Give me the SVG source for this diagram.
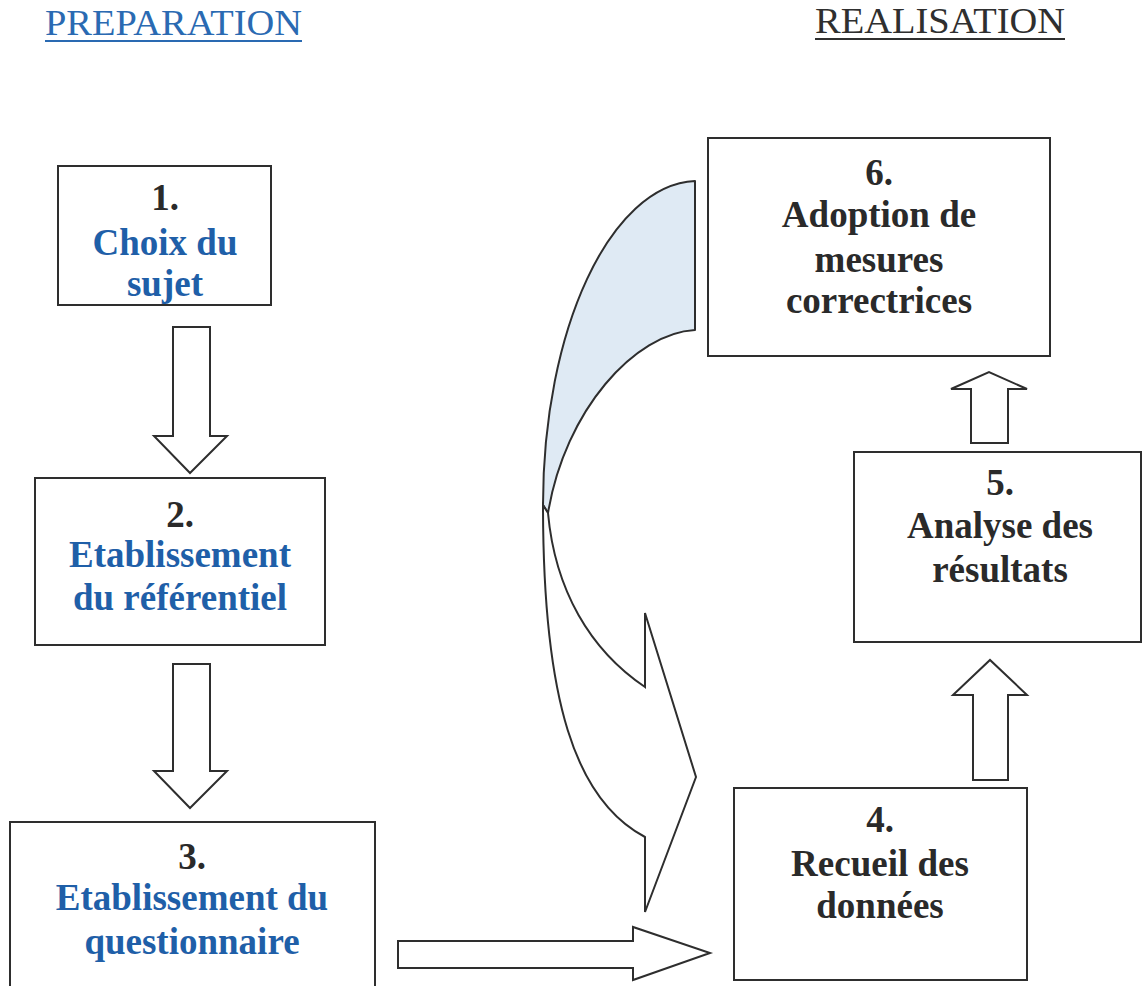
<svg xmlns="http://www.w3.org/2000/svg" width="1142" height="986" viewBox="0 0 1142 986">
<style>
.box{fill:#fff;stroke:#2e2e2e;stroke-width:2}
.arr{fill:#fff;stroke:#2e2e2e;stroke-width:2;stroke-linejoin:miter}
.t{font-family:"Liberation Serif","Times New Roman",serif;font-weight:bold;font-size:37px;text-anchor:middle}
.num{fill:#2a2a2a}
.blue{fill:#1f5fa8}
.dark{fill:#2a2a2a}
.hdr{font-family:"Liberation Serif","Times New Roman",serif;font-size:35px}
</style>
<rect width="1142" height="986" fill="#fff"/>
<g id="headers">
<text class="hdr" x="45" y="35" fill="#2a6ab2" textLength="257" lengthAdjust="spacingAndGlyphs">PREPARATION</text>
<line x1="45" y1="41" x2="302" y2="41" stroke="#2a6ab2" stroke-width="2"/>
<text class="hdr" x="815" y="33" fill="#2f2f2f" textLength="250" lengthAdjust="spacingAndGlyphs">REALISATION</text>
<line x1="815" y1="39" x2="1065" y2="39" stroke="#2f2f2f" stroke-width="2"/>
</g>
<g id="connectors">
<path class="arr" d="M173,327 L210,327 L210,436 L227,436 L190,473 L154,436 L173,436 Z"/>
<path class="arr" d="M173,664 L210,664 L210,771 L227,771 L190,808 L154,771 L173,771 Z"/>
<path class="arr" d="M398,941 L633,941 L633,927 L710,953 L633,980 L633,968 L398,968 Z"/>
<path class="arr" d="M973,780 L1008,780 L1008,695 L1027,695 L990,660 L953,695 L973,695 Z"/>
<path class="arr" d="M971,443 L1008,443 L1008,389 L1027,389 L989,372 L951,389 L971,389 Z"/>
<path d="M695,181 L695,330 C635,333 565,410 548,513 L543,505 C543,330 610,185 695,181 Z" fill="#dfeaf4" stroke="#2e2e2e" stroke-width="2" stroke-linejoin="round"/>
<path class="arr" d="M543,505 C543,700 575,800 645,837 L645,912 L696,777 L645,613 L645,687 C590,650 555,590 548,513 Z"/>
</g>
<g id="node1">
<rect class="box" x="58" y="166" width="213" height="139"/>
<text class="t num" x="165" y="210">1.</text>
<text class="t blue" x="165" y="255">Choix du</text>
<text class="t blue" x="165" y="296">sujet</text>
</g>
<g id="node2">
<rect class="box" x="35" y="478" width="290" height="167"/>
<text class="t num" x="180" y="527">2.</text>
<text class="t blue" x="180" y="567">Etablissement</text>
<text class="t blue" x="180" y="610">du référentiel</text>
</g>
<g id="node3">
<rect class="box" x="10" y="822" width="365" height="180"/>
<text class="t num" x="192" y="869">3.</text>
<text class="t blue" x="192" y="910">Etablissement du</text>
<text class="t blue" x="192" y="954">questionnaire</text>
</g>
<g id="node4">
<rect class="box" x="734" y="788" width="293" height="192"/>
<text class="t dark" x="880" y="832">4.</text>
<text class="t dark" x="880" y="876">Recueil des</text>
<text class="t dark" x="880" y="918">données</text>
</g>
<g id="node5">
<rect class="box" x="854" y="452" width="287" height="190"/>
<text class="t dark" x="1000" y="495">5.</text>
<text class="t dark" x="1000" y="538">Analyse des</text>
<text class="t dark" x="1000" y="582">résultats</text>
</g>
<g id="node6">
<rect class="box" x="708" y="138" width="342" height="218"/>
<text class="t dark" x="879" y="185">6.</text>
<text class="t dark" x="879" y="227">Adoption de</text>
<text class="t dark" x="879" y="272">mesures</text>
<text class="t dark" x="879" y="313">correctrices</text>
</g>
</svg>
